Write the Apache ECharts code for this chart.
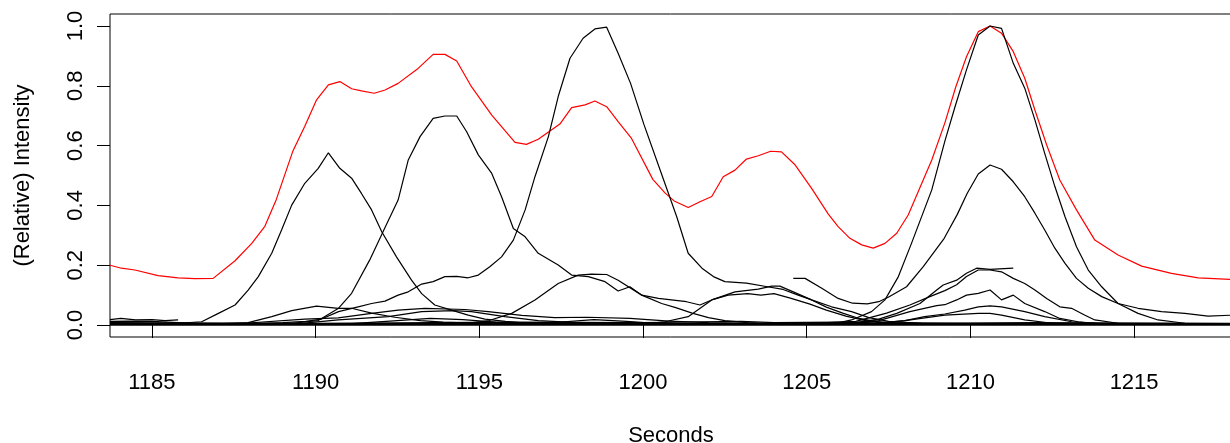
<!DOCTYPE html>
<html>
<head>
<meta charset="utf-8">
<script src="https://cdn.jsdelivr.net/npm/echarts@6/dist/echarts.min.js"></script>
<style>
html,body{margin:0;padding:0;background:#fff;}
#chart{width:1230px;height:443px;}
</style>
</head>
<body>
<div id="chart"></div>
<script>
// Tick labels
const xTicks = [1185, 1190, 1195, 1200, 1205, 1210, 1215];
const yTicks = [0, 0.2, 0.4, 0.6, 0.8, 1.0];

// Summed (red) trace: [seconds, relative intensity]
const redTrace = [[1183.72,0.200],[1184.07,0.190],[1184.48,0.184],[1185.19,0.165],[1185.80,0.158],[1186.31,0.155],[1186.87,0.156],[1187.54,0.215],[1188.05,0.273],[1188.45,0.330],[1188.80,0.420],[1189.30,0.580],[1189.67,0.665],[1190.03,0.753],[1190.39,0.803],[1190.74,0.814],[1191.10,0.790],[1191.40,0.783],[1191.79,0.775],[1192.12,0.786],[1192.52,0.808],[1193.13,0.858],[1193.59,0.905],[1193.95,0.905],[1194.31,0.883],[1194.76,0.797],[1195.38,0.702],[1196.09,0.611],[1196.44,0.604],[1196.80,0.621],[1197.46,0.672],[1197.82,0.727],[1198.23,0.736],[1198.53,0.749],[1198.89,0.730],[1199.24,0.680],[1199.65,0.624],[1200.30,0.487],[1200.67,0.442],[1200.95,0.415],[1201.38,0.393],[1201.74,0.412],[1202.10,0.430],[1202.45,0.496],[1202.81,0.518],[1203.16,0.555],[1203.52,0.566],[1203.90,0.581],[1204.23,0.579],[1204.65,0.535],[1205.15,0.457],[1205.66,0.371],[1205.96,0.329],[1206.32,0.290],[1206.68,0.268],[1207.03,0.257],[1207.39,0.273],[1207.75,0.307],[1208.10,0.368],[1208.82,0.552],[1209.22,0.676],[1209.55,0.795],[1209.88,0.897],[1210.24,0.981],[1210.60,1.000],[1210.95,0.976],[1211.31,0.914],[1211.66,0.825],[1211.97,0.719],[1212.33,0.602],[1212.73,0.485],[1213.24,0.385],[1213.80,0.284],[1214.51,0.234],[1215.23,0.197],[1216.14,0.173],[1216.96,0.158],[1217.99,0.152]];

// Individual (black) traces
const trace1 = [[1183.72,0.006],[1185.00,0.005],[1185.80,0.006],[1186.52,0.011],[1187.03,0.039],[1187.54,0.067],[1187.94,0.117],[1188.25,0.162],[1188.66,0.240],[1188.96,0.318],[1189.27,0.401],[1189.67,0.474],[1190.08,0.524],[1190.39,0.576],[1190.74,0.524],[1191.10,0.491],[1191.40,0.440],[1191.71,0.385],[1192.02,0.312],[1192.47,0.228],[1192.93,0.150],[1193.24,0.105],[1193.64,0.067],[1194.15,0.050],[1194.66,0.033],[1195.17,0.020],[1195.80,0.012],[1196.50,0.006],[1200.00,0.004],[1217.99,0.004]];
const trace2 = [[1183.72,0.003],[1188.50,0.003],[1189.27,0.006],[1190.08,0.015],[1190.69,0.055],[1191.10,0.106],[1191.65,0.217],[1192.12,0.326],[1192.52,0.418],[1192.83,0.552],[1193.19,0.630],[1193.59,0.691],[1193.95,0.699],[1194.31,0.699],[1194.61,0.647],[1194.97,0.569],[1195.38,0.507],[1195.68,0.429],[1196.04,0.323],[1196.40,0.295],[1196.80,0.240],[1197.41,0.201],[1197.82,0.167],[1198.33,0.162],[1198.84,0.145],[1199.24,0.114],[1199.60,0.128],[1199.96,0.100],[1200.47,0.089],[1201.33,0.078],[1201.74,0.067],[1202.15,0.086],[1202.60,0.100],[1203.20,0.105],[1203.60,0.100],[1204.00,0.105],[1204.50,0.090],[1205.10,0.070],[1205.60,0.050],[1206.20,0.030],[1206.80,0.015],[1207.50,0.008],[1210.00,0.005],[1217.99,0.005]];
const trace3 = [[1183.72,0.004],[1188.00,0.004],[1189.00,0.008],[1189.70,0.012],[1190.18,0.020],[1190.70,0.045],[1191.30,0.061],[1191.71,0.072],[1192.12,0.080],[1192.52,0.100],[1192.83,0.111],[1193.24,0.137],[1193.59,0.145],[1193.95,0.162],[1194.31,0.163],[1194.66,0.158],[1194.97,0.167],[1195.32,0.195],[1195.68,0.228],[1196.04,0.284],[1196.40,0.385],[1196.70,0.496],[1197.11,0.630],[1197.41,0.764],[1197.77,0.892],[1198.17,0.959],[1198.53,0.990],[1198.89,0.996],[1199.24,0.909],[1199.62,0.808],[1200.03,0.670],[1200.55,0.510],[1201.03,0.362],[1201.38,0.240],[1201.80,0.190],[1202.15,0.162],[1202.50,0.145],[1203.16,0.140],[1203.80,0.128],[1204.28,0.119],[1204.74,0.100],[1205.15,0.084],[1205.76,0.061],[1206.37,0.045],[1206.90,0.025],[1207.50,0.012],[1208.50,0.006],[1217.99,0.005]];
const trace4 = [[1183.72,0.003],[1205.50,0.004],[1206.00,0.008],[1206.37,0.017],[1206.98,0.045],[1207.39,0.084],[1207.80,0.162],[1208.20,0.273],[1208.82,0.452],[1209.22,0.615],[1209.53,0.730],[1209.88,0.853],[1210.24,0.970],[1210.60,1.000],[1210.95,0.992],[1211.31,0.875],[1211.66,0.792],[1211.97,0.686],[1212.27,0.574],[1212.58,0.463],[1212.89,0.362],[1213.24,0.262],[1213.60,0.184],[1214.01,0.128],[1214.51,0.072],[1215.12,0.039],[1215.73,0.017],[1216.55,0.006],[1217.99,0.004]];
const trace5 = [[1204.59,0.156],[1204.95,0.156],[1205.46,0.123],[1205.96,0.089],[1206.40,0.073],[1206.85,0.071],[1207.20,0.078],[1207.49,0.093],[1208.05,0.128],[1208.56,0.195],[1209.20,0.290],[1209.60,0.370],[1209.90,0.440],[1210.24,0.505],[1210.60,0.535],[1210.95,0.521],[1211.31,0.479],[1211.66,0.429],[1211.97,0.374],[1212.27,0.318],[1212.58,0.257],[1212.89,0.206],[1213.24,0.156],[1213.60,0.123],[1214.01,0.095],[1214.51,0.072],[1215.12,0.056],[1215.84,0.045],[1216.55,0.039],[1217.26,0.030],[1217.99,0.033]];
const trace6 = [[1183.72,0.003],[1194.50,0.004],[1195.30,0.015],[1195.99,0.039],[1196.70,0.084],[1197.41,0.139],[1198.02,0.167],[1198.43,0.170],[1198.89,0.169],[1199.24,0.150],[1199.96,0.100],[1200.57,0.072],[1201.00,0.058],[1201.50,0.040],[1202.00,0.025],[1202.50,0.015],[1203.20,0.008],[1204.00,0.005],[1217.99,0.004]];
const trace7 = [[1183.72,0.003],[1199.50,0.004],[1200.20,0.006],[1200.67,0.011],[1201.38,0.028],[1202.10,0.084],[1202.81,0.111],[1203.52,0.120],[1203.93,0.130],[1204.18,0.130],[1204.59,0.111],[1205.15,0.084],[1205.60,0.060],[1206.10,0.040],[1206.60,0.022],[1207.20,0.010],[1208.00,0.005],[1217.99,0.004]];
const trace8 = [[1204.60,0.004],[1206.50,0.008],[1207.20,0.020],[1207.75,0.039],[1208.46,0.072],[1208.97,0.117],[1209.17,0.134],[1209.58,0.150],[1209.88,0.173],[1210.19,0.190],[1210.60,0.186],[1211.31,0.190]];
const trace9 = [[1183.72,0.004],[1205.00,0.005],[1206.50,0.012],[1207.44,0.040],[1208.15,0.067],[1208.76,0.095],[1209.22,0.115],[1209.58,0.135],[1209.88,0.162],[1210.24,0.184],[1210.60,0.184],[1210.95,0.178],[1211.31,0.156],[1211.66,0.139],[1211.97,0.117],[1212.33,0.089],[1212.73,0.061],[1213.09,0.056],[1213.50,0.033],[1213.80,0.017],[1214.51,0.006],[1217.99,0.004]];
const trace10 = [[1183.72,0.003],[1206.00,0.004],[1207.20,0.015],[1208.15,0.045],[1208.97,0.065],[1209.22,0.068],[1209.58,0.084],[1209.88,0.100],[1210.24,0.106],[1210.60,0.117],[1210.95,0.084],[1211.31,0.100],[1211.66,0.072],[1212.27,0.045],[1212.73,0.022],[1213.29,0.011],[1213.80,0.006],[1217.99,0.004]];
const trace11 = [[1183.72,0.002],[1207.00,0.005],[1208.00,0.015],[1208.60,0.028],[1209.22,0.037],[1209.83,0.050],[1210.24,0.061],[1210.60,0.064],[1210.95,0.061],[1211.66,0.045],[1212.27,0.028],[1213.09,0.011],[1214.00,0.005],[1217.99,0.003]];
const trace12 = [[1183.72,0.002],[1207.00,0.004],[1208.00,0.015],[1209.22,0.033],[1210.24,0.039],[1210.60,0.039],[1210.95,0.033],[1211.66,0.017],[1212.50,0.006],[1213.50,0.004],[1217.99,0.003]];
const trace13 = [[1183.72,0.004],[1187.00,0.004],[1187.94,0.008],[1188.66,0.028],[1189.27,0.048],[1190.03,0.063],[1190.69,0.056],[1191.10,0.056],[1191.71,0.040],[1192.42,0.026],[1193.20,0.015],[1193.90,0.010],[1195.00,0.006],[1217.99,0.004]];
const trace14 = [[1183.72,0.003],[1187.84,0.006],[1189.67,0.020],[1190.69,0.024],[1191.71,0.039],[1192.52,0.050],[1193.34,0.056],[1194.56,0.052],[1195.27,0.045],[1196.30,0.032],[1197.30,0.025],[1198.30,0.026],[1199.60,0.022],[1200.80,0.013],[1202.00,0.008],[1203.50,0.006],[1217.99,0.004]];
const trace15 = [[1183.72,0.003],[1189.50,0.005],[1190.69,0.017],[1192.22,0.028],[1193.24,0.045],[1194.20,0.048],[1194.76,0.045],[1195.78,0.028],[1196.80,0.015],[1198.00,0.008],[1200.00,0.005],[1217.99,0.003]];
const trace16 = [[1183.72,0.002],[1191.00,0.004],[1192.50,0.015],[1193.50,0.022],[1194.50,0.018],[1195.50,0.010],[1197.00,0.006],[1198.50,0.018],[1199.50,0.012],[1200.50,0.005],[1217.99,0.003]];
const trace17 = [[1183.72,0.018],[1184.05,0.022],[1184.50,0.017],[1185.00,0.018],[1185.40,0.015],[1185.80,0.017]];
const trace18 = [[1183.72,0.012],[1184.30,0.013],[1185.00,0.012],[1185.80,0.008],[1186.50,0.004],[1190.00,0.003],[1217.99,0.003]];
const trace19 = [[1183.72,0.008],[1190.00,0.006],[1196.00,0.010],[1200.00,0.008],[1203.00,0.012],[1204.00,0.008],[1206.00,0.010],[1208.00,0.006],[1212.00,0.008],[1217.99,0.006]];
const trace20 = [[1183.72,0.000],[1217.99,0.000]];

const blackTraces = [trace1,trace2,trace3,trace4,trace5,trace6,trace7,trace8,trace9,trace10,trace11,trace12,trace13,trace14,trace15,trace16,trace17,trace18,trace19,trace20];

const FONT = "'Liberation Sans', Arial, Helvetica, sans-serif";
const chart = echarts.init(document.getElementById('chart'), null, {renderer: 'canvas'});

const series = [{
  type: 'line', data: redTrace, showSymbol: false, symbol: 'none', silent: true,
  lineStyle: {color: '#ff0000', width: 1.2}, z: 2
}];
blackTraces.forEach(t => series.push({
  type: 'line', data: t, showSymbol: false, symbol: 'none', silent: true,
  lineStyle: {color: '#000000', width: 1.2}, z: 3
}));

chart.setOption({
  animation: false,
  backgroundColor: '#ffffff',
  grid: {left: 110, top: 14, width: 1122, height: 323, show: true, borderColor: '#000', borderWidth: 1,
    backgroundColor: 'transparent', containLabel: false, outerBoundsMode: 'none'},
  xAxis: {
    type: 'value', min: 1183.72, max: 1217.99,
    name: 'Seconds', nameLocation: 'middle', nameGap: 88,
    nameTextStyle: {fontFamily: FONT, fontSize: 22, color: '#000'},
    axisLine: {show: false},
    axisTick: {show: true, inside: false, length: 13, customValues: xTicks, lineStyle: {color: '#000', width: 1}},
    axisLabel: {show: true, margin: 35, customValues: xTicks, fontFamily: FONT, fontSize: 22, color: '#000',
      formatter: v => String(Math.round(v))},
    splitLine: {show: false}
  },
  yAxis: {
    type: 'value', min: -0.04, max: 1.04,
    name: '(Relative) Intensity', nameLocation: 'middle', nameGap: 76, nameRotate: 90,
    nameTextStyle: {fontFamily: FONT, fontSize: 22, color: '#000'},
    axisLine: {show: false},
    axisTick: {show: true, inside: false, length: 13, customValues: yTicks, lineStyle: {color: '#000', width: 1}},
    axisLabel: {show: true, margin: 23, rotate: 90, customValues: yTicks, fontFamily: FONT, fontSize: 22, color: '#000',
      formatter: v => Number(v).toFixed(1)},
    splitLine: {show: false}
  },
  series: series
});
</script>
</body>
</html>
